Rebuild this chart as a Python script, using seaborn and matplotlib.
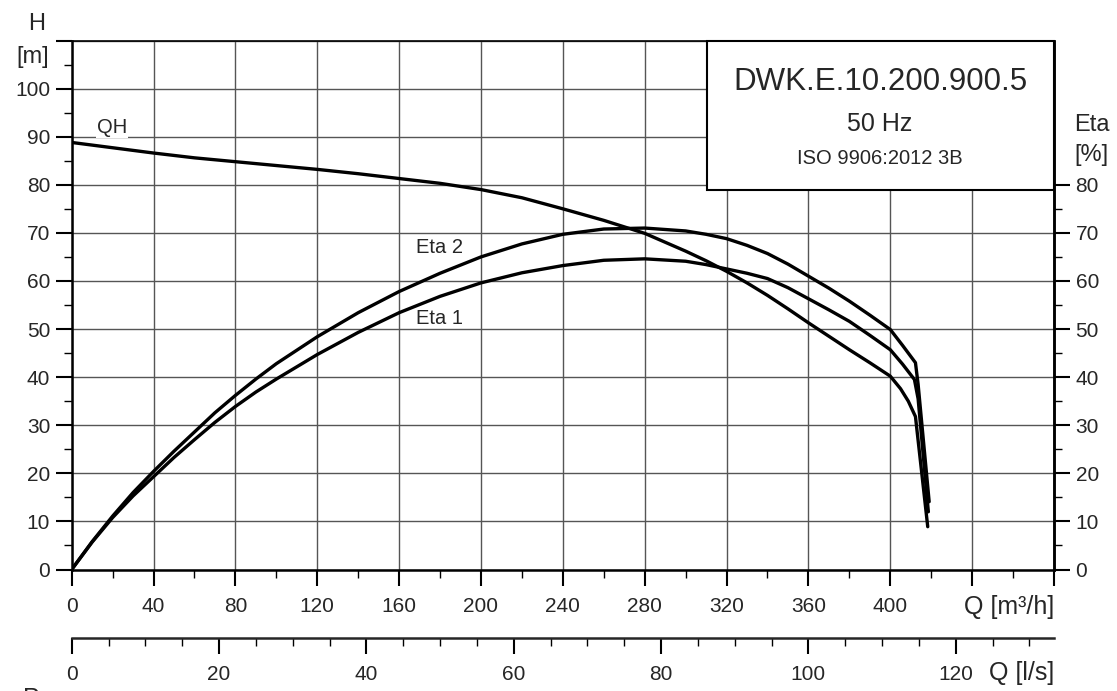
import numpy as np
import pandas as pd
import matplotlib
matplotlib.use("Agg")
import matplotlib.pyplot as plt
from matplotlib.patches import Rectangle
from matplotlib.ticker import MultipleLocator, FixedLocator
import seaborn as sns

sns.set_theme(style="white")
plt.rcParams['font.family'] = ['Liberation Sans', 'DejaVu Sans']

# curve data (Q in m3/h)
qh_q = [0, 20, 40, 60, 80, 100, 120, 140, 160, 180, 200, 220, 240, 260, 280, 300,
        310, 320, 330, 340, 350, 360, 370, 380, 390, 400, 405, 408.8, 412.3, 418.3]
qh_h = [88.8, 87.7, 86.6, 85.6, 84.8, 84.0, 83.2, 82.3, 81.3, 80.3, 79.0, 77.3, 75.0,
        72.6, 69.9, 66.2, 64.2, 62.0, 59.6, 57.0, 54.2, 51.3, 48.5, 45.7, 43.0, 40.2,
        37.6, 35.0, 31.8, 8.9]

eta2_q = [0, 10, 20, 30, 40, 50, 60, 70, 80, 90, 100, 120, 140, 160, 180, 200, 220, 240,
          260, 280, 300, 310, 320, 330, 340, 350, 360, 370, 380, 390, 400, 406, 412.3,
          413.6, 419.0]
eta2_v = [0, 5.8, 11.1, 16.0, 20.4, 24.6, 28.6, 32.6, 36.2, 39.6, 42.8, 48.4, 53.4, 57.8,
          61.6, 65.0, 67.7, 69.7, 70.8, 71.0, 70.4, 69.7, 68.8, 67.4, 65.7, 63.5, 61.0,
          58.5, 55.8, 52.9, 49.9, 46.6, 43.0, 38.5, 14.1]

eta1_q = [0, 10, 20, 30, 40, 50, 60, 70, 80, 90, 100, 120, 140, 160, 180, 200, 220, 240,
          260, 280, 300, 310, 320, 330, 340, 350, 360, 370, 380, 390, 400, 406, 411.8,
          413.6, 418.6]
eta1_v = [0, 5.7, 10.8, 15.3, 19.3, 23.3, 27.0, 30.6, 33.9, 36.9, 39.6, 44.7, 49.3, 53.4,
          56.8, 59.6, 61.7, 63.2, 64.3, 64.6, 64.1, 63.4, 62.5, 61.6, 60.5, 58.6, 56.3,
          54.0, 51.6, 48.7, 45.7, 42.7, 39.5, 35.5, 12.0]

q_ticks = list(range(0, 481, 40))
q_labels = [str(v) for v in range(0, 401, 40)] + ['', '']
h_ticks = list(range(0, 111, 10))
h_labels = [str(v) for v in range(0, 101, 10)] + ['']
eta_ticks = list(range(0, 81, 10))
ls_ticks = list(range(0, 121, 20))

df = pd.concat([
    pd.DataFrame({'q': qh_q, 'v': qh_h, 'curve': 'QH'}),
    pd.DataFrame({'q': eta2_q, 'v': eta2_v, 'curve': 'Eta 2'}),
    pd.DataFrame({'q': eta1_q, 'v': eta1_v, 'curve': 'Eta 1'}),
])

W, H = 1117, 691
fig = plt.figure(figsize=(W / 100, H / 100), dpi=100)
left, right, bottom, top = 71.7 / W, 1054 / W, 1 - 569.5 / H, 1 - 40.5 / H
ax = fig.add_axes([left, bottom, right - left, top - bottom])

sns.lineplot(data=df, x='q', y='v', hue='curve', units='curve', estimator=None,
             sort=False, palette={'QH': 'black', 'Eta 2': 'black', 'Eta 1': 'black'},
             linewidth=2.4, legend=False, ax=ax, zorder=3)
for ln in ax.get_lines():
    ln.set_solid_joinstyle('round')

ax.set_xlim(0, 480)
ax.set_ylim(0, 110)
ax.set_xlabel('')
ax.set_ylabel('')
ax.set_axisbelow(True)
ax.xaxis.set_major_locator(FixedLocator(q_ticks))
ax.set_xticklabels(q_labels)
ax.xaxis.set_minor_locator(MultipleLocator(20))
ax.yaxis.set_major_locator(FixedLocator(h_ticks))
ax.set_yticklabels(h_labels)
ax.yaxis.set_minor_locator(MultipleLocator(5))
ax.grid(True, which='major', color='#555555', linewidth=1.0)
ax.tick_params(axis='both', which='major', direction='out', length=11.5, width=1.5,
               labelsize=15, color='black', pad=4, bottom=True, left=True)
ax.tick_params(axis='x', which='major', pad=8)
ax.tick_params(axis='both', which='minor', direction='out', length=5.5, width=1.0,
               color='black', bottom=True, left=True)
for s in ['left', 'bottom', 'right']:
    ax.spines[s].set_linewidth(1.8)
    ax.spines[s].set_color('black')
ax.spines['top'].set_linewidth(1.2)
ax.spines['top'].set_color('black')

# right efficiency axis
axr = ax.twinx()
axr.set_ylim(0, 110)
axr.yaxis.set_major_locator(FixedLocator(eta_ticks))
axr.yaxis.set_minor_locator(FixedLocator(list(range(5, 80, 10))))
axr.tick_params(axis='y', which='major', direction='out', length=11.5, width=1.5,
                labelsize=15, color='black', pad=4, right=True)
axr.tick_params(axis='y', which='minor', direction='out', length=5.5, width=1.0,
                color='black', right=True)
axr.grid(False)
for s in ['left', 'top', 'bottom']:
    axr.spines[s].set_visible(False)
axr.spines['right'].set_linewidth(1.8)
axr.spines['right'].set_color('black')

# title box
ax.add_patch(Rectangle((310.4, 78.9), 480 - 310.4, 110 - 78.9, facecolor='white',
                       edgecolor='black', linewidth=1.5, zorder=4, clip_on=False))
ax.text(395, 101.4, 'DWK.E.10.200.900.5', ha='center', va='center', fontsize=22.5, zorder=5)
ax.text(395, 92.6, '50 Hz', ha='center', va='center', fontsize=18, zorder=5)
ax.text(395, 85.5, 'ISO 9906:2012 3B', ha='center', va='center', fontsize=14.5, zorder=5)

# curve labels
ax.text(12.3, 89.9, 'QH', ha='left', va='bottom', fontsize=14.5, zorder=5,
        bbox=dict(facecolor='white', edgecolor='none', pad=0.5))
ax.text(168.3, 67.0, 'Eta 2', ha='left', va='center', fontsize=14.5, zorder=5)
ax.text(168, 52.1, 'Eta 1', ha='left', va='center', fontsize=14.5, zorder=5)

# second Q axis in l/s
ax2 = fig.add_axes([left, 1 - 637.7 / H, right - left, 0.0001])
ax2.set_xlim(0, 480 / 3.6)
ax2.set_yticks([])
ax2.patch.set_visible(False)
for s in ['left', 'top', 'right']:
    ax2.spines[s].set_visible(False)
ax2.spines['bottom'].set_linewidth(1.8)
ax2.xaxis.set_major_locator(FixedLocator(ls_ticks))
ax2.xaxis.set_minor_locator(MultipleLocator(5))
ax2.tick_params(axis='x', which='major', direction='out', length=11.5, width=1.5,
                labelsize=15, color='black', pad=8, bottom=True)
ax2.tick_params(axis='x', which='minor', direction='out', length=5.5, width=1.0,
                color='black', bottom=True)

# axis titles
fig.text(37 / W, 1 - 24 / H, 'H', ha='center', va='center', fontsize=17)
fig.text(33 / W, 1 - 57 / H, '[m]', ha='center', va='center', fontsize=17)
fig.text(1074 / W, 1 - 125 / H, 'Eta', ha='left', va='center', fontsize=17)
fig.text(1074 / W, 1 - 155 / H, '[%]', ha='left', va='center', fontsize=17)
fig.text(1054 / W, 1 - 606.7 / H, 'Q [m³/h]', ha='right', va='center', fontsize=18)
fig.text(1054 / W, 1 - 673.3 / H, 'Q [l/s]', ha='right', va='center', fontsize=18)
fig.text(23 / W, 1 - 686.7 / H, 'P', ha='left', va='top', fontsize=18)

fig.savefig('out.png', dpi=100)
